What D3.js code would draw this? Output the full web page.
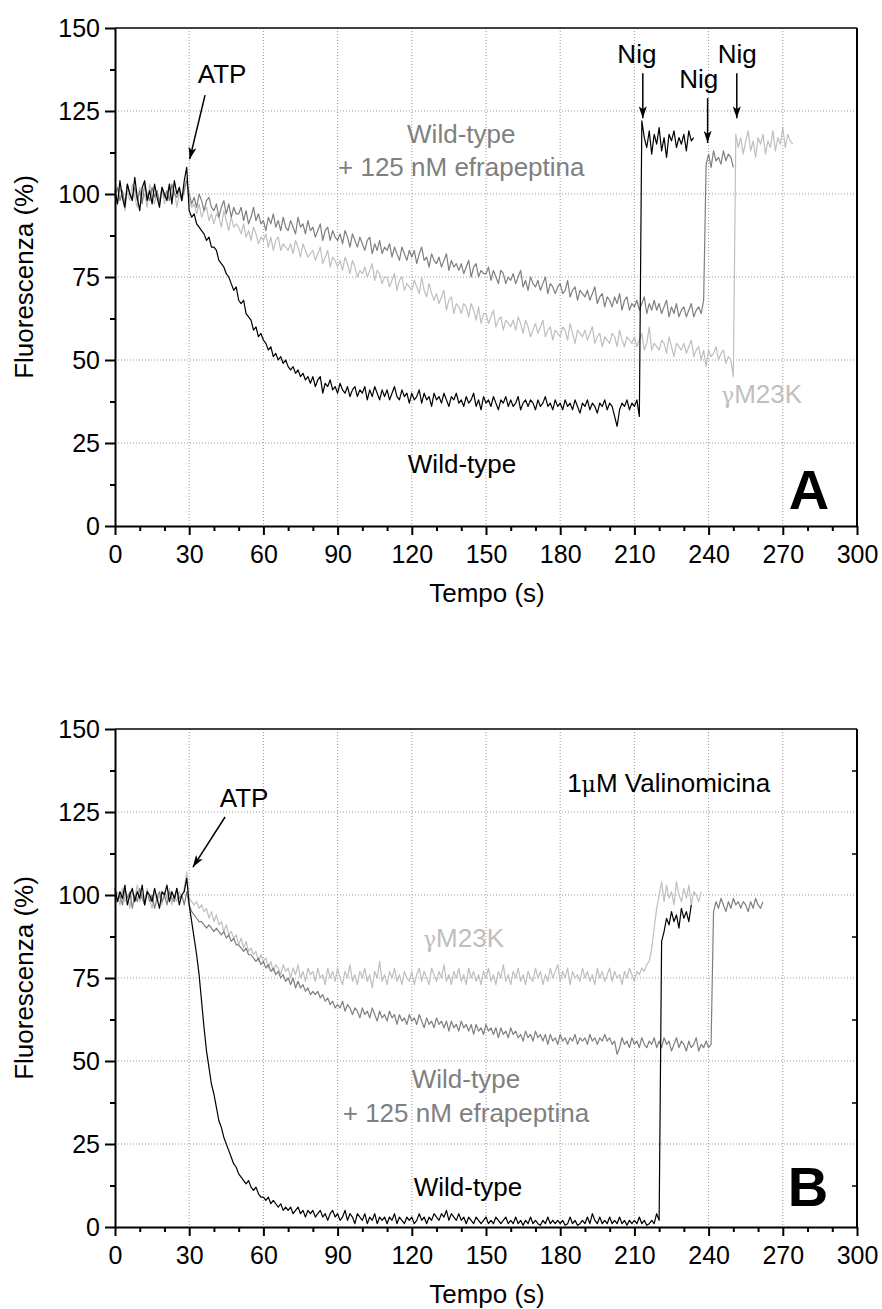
<!DOCTYPE html>
<html>
<head>
<meta charset="utf-8">
<script src="https://cdn.jsdelivr.net/npm/d3@7/dist/d3.min.js"></script>
<style>
  body { margin: 0; background: #fff; }
  svg { display: block; font-family: "Liberation Sans", Arial, sans-serif; }
</style>
</head>
<body>
<script>
// sampling step of every trace, seconds
const timeStep = 1;

const xTicks = [0, 30, 60, 90, 120, 150, 180, 210, 240, 270, 300];
const xMinor = d3.range(0, 301, 10).filter(v => v % 30 !== 0);
const yTicks = [0, 25, 50, 75, 100, 125, 150];
const yMinor = [12.5, 37.5, 62.5, 87.5, 112.5, 137.5];
const xGrid = [30, 60, 90, 120, 150, 180, 210, 240, 270];
const yGrid = [25, 50, 75, 100, 125];

// panel A, fluorescence (%) sampled every second from t = 0
const aWildType = [
  101, 97, 104, 99, 96, 103, 100, 98, 105, 99,
  95, 102, 104, 98, 101, 97, 103, 99, 96, 102,
  100, 98, 103, 97, 104, 100, 102, 98, 104, 108,
  95, 93, 94, 91, 90, 89, 88, 86, 87, 84,
  84, 83, 80, 79, 78, 76, 75, 73, 71, 72,
  68, 67, 68, 64, 63, 62, 59, 60, 57, 58,
  56, 55, 53, 54, 51, 52, 50, 51, 49, 50,
  48, 47, 48, 46, 47, 45, 46, 44, 45, 43,
  45, 42, 44, 45, 40, 43, 42, 44, 41, 42,
  40, 43, 41, 40, 42, 39, 41, 42, 39, 41,
  40, 42, 38, 41, 39, 42, 40, 38, 41, 39,
  41, 38, 40, 42, 39, 38, 41, 39, 40, 37,
  40, 38, 39, 41, 37, 40, 38, 39, 36, 40,
  38, 39, 37, 40, 38, 36, 39, 38, 40, 37,
  38, 36, 39, 37, 38, 40, 36, 38, 35, 39,
  37, 38, 36, 39, 37, 35, 38, 37, 39, 36,
  38, 36, 37, 39, 35, 37, 38, 36, 38, 37,
  35, 38, 36, 37, 39, 36, 37, 35, 38, 36,
  37, 35, 38, 36, 37, 35, 38, 36, 34, 37,
  36, 38, 35, 37, 36, 34, 37, 36, 38, 35,
  37, 36, 33, 30, 35, 37, 36, 38, 35, 37,
  36, 38, 33, 122, 117, 114, 119, 112, 118, 115,
  120, 113, 117, 111, 118, 116, 119, 114, 117, 115,
  118, 113, 119, 116, 117
];
const aWtEfra = [
  99, 102, 98, 101, 97, 103, 100, 99, 102, 98,
  101, 97, 103, 100, 98, 102, 99, 101, 97, 102,
  99, 101, 98, 103, 100, 99, 102, 98, 101, 104,
  100, 97, 99, 96, 100, 98, 95, 98, 99, 96,
  95, 97, 93, 96, 98, 94, 97, 93, 96, 94,
  94, 96, 92, 95, 91, 93, 96, 92, 94, 91,
  92, 89, 93, 91, 94, 90, 92, 89, 93, 90,
  89, 92, 90, 88, 93, 90, 91, 88, 92, 89,
  90, 87, 89, 91, 86, 89, 90, 86, 89, 87,
  86, 88, 85, 89, 87, 84, 88, 86, 84, 87,
  85, 83, 86, 87, 82, 85, 83, 86, 82, 84,
  83, 85, 81, 84, 82, 80, 84, 82, 80, 83,
  81, 83, 79, 82, 84, 80, 81, 78, 82, 80,
  79, 81, 78, 80, 82, 77, 80, 78, 79, 77,
  79, 76, 78, 80, 75, 78, 79, 75, 77, 76,
  76, 78, 74, 77, 75, 73, 77, 76, 73, 75,
  74, 76, 73, 75, 77, 72, 74, 71, 75, 73,
  72, 74, 71, 73, 75, 70, 73, 72, 70, 72,
  73, 70, 71, 74, 69, 71, 72, 68, 71, 70,
  69, 71, 68, 70, 72, 67, 69, 70, 66, 69,
  68, 66, 69, 67, 70, 65, 68, 69, 65, 67,
  66, 68, 65, 67, 69, 64, 67, 65, 68, 65,
  67, 64, 66, 68, 63, 66, 64, 67, 63, 65,
  66, 63, 65, 67, 63, 65, 66, 64, 68, 109,
  112, 108, 113, 110, 111, 109, 113, 110, 112, 111,
  108
];
const aM23K = [
  100, 97, 102, 99, 95, 101, 98, 103, 99, 96,
  102, 98, 100, 96, 103, 99, 97, 101, 98, 102,
  97, 100, 103, 98, 101, 96, 100, 99, 102, 105,
  98, 96, 97, 94, 97, 93, 95, 96, 92, 94,
  91, 94, 93, 90, 95, 92, 89, 93, 90, 91,
  90, 88, 91, 87, 89, 86, 90, 88, 85, 87,
  86, 88, 84, 87, 83, 86, 87, 83, 85, 84,
  83, 85, 82, 86, 84, 81, 85, 83, 81, 82,
  83, 80, 82, 84, 79, 81, 83, 78, 81, 80,
  78, 80, 77, 81, 79, 76, 80, 78, 75, 77,
  76, 78, 75, 77, 79, 74, 77, 76, 73, 75,
  75, 72, 74, 76, 71, 74, 75, 71, 73, 72,
  71, 74, 72, 70, 75, 71, 69, 73, 70, 68,
  70, 67, 69, 71, 65, 68, 69, 64, 67, 66,
  64, 67, 66, 63, 67, 65, 62, 66, 61, 64,
  64, 61, 63, 65, 60, 62, 63, 59, 62, 61,
  60, 62, 59, 63, 61, 58, 62, 60, 57, 59,
  61, 58, 60, 62, 57, 59, 60, 56, 59, 58,
  57, 60, 59, 56, 61, 58, 55, 59, 58, 57,
  59, 56, 58, 60, 55, 57, 58, 54, 57, 56,
  55, 58, 57, 54, 59, 56, 54, 57, 56, 55,
  57, 54, 56, 58, 53, 55, 60, 53, 55, 54,
  53, 56, 55, 52, 57, 54, 51, 55, 54, 53,
  55, 52, 54, 56, 51, 53, 54, 50, 53, 48,
  53, 51, 52, 54, 50, 52, 53, 49, 51, 50,
  45, 118, 114, 117, 112, 116, 119, 113, 116, 111,
  117, 115, 118, 112, 116, 114, 119, 113, 117, 115,
  120, 114, 118, 116, 115
];

// panel B (1 uM valinomycin), same sampling
const bWildType = [
  102, 98, 101, 99, 103, 97, 100, 102, 98, 101,
  99, 103, 97, 101, 100, 98, 102, 99, 96, 101,
  100, 103, 98, 101, 99, 102, 97, 100, 101, 105,
  97, 92, 87, 82, 76, 68, 60, 53, 48, 43,
  40, 36, 32, 30, 27, 25, 23, 21, 19, 18,
  16, 15, 14, 13, 14, 12, 11, 12, 10, 9,
  9, 8, 9, 7, 8, 7, 6, 7, 5, 6,
  5, 6, 4, 5, 6, 4, 5, 3, 5, 4,
  5, 3, 4, 5, 3, 4, 2, 4, 5, 3,
  4, 2, 3, 5, 2, 4, 3, 1, 4, 3,
  2, 4, 1, 3, 2, 4, 1, 3, 2, 3,
  1, 3, 2, 4, 1, 3, 2, 1, 3, 2,
  3, 1, 2, 4, 2, 3, 1, 3, 2, 4,
  3, 2, 4, 3, 5, 2, 4, 3, 2, 4,
  2, 3, 1, 3, 2, 1, 3, 2, 1, 2,
  3, 1, 2, 1, 3, 2, 1, 2, 3, 1,
  2, 1, 3, 1, 2, 0.5, 2, 1, 3, 1,
  2, 1, 0.5, 2, 1, 3, 1, 2, 1, 2,
  1, 2, 0.5, 1, 3, 1, 2, 0.5, 1, 2,
  1, 3, 1, 4, 2, 1, 3, 1, 2, 1,
  3, 1, 2, 1, 3, 1, 2, 0.5, 2, 1,
  2, 1, 3, 1, 2, 0.5, 1, 2, 1, 4,
  2, 86, 89, 93, 91, 95, 92, 94, 90, 96,
  93, 95, 92, 97
];
const bWtEfra = [
  101, 98, 100, 97, 102, 99, 101, 96, 100, 98,
  102, 99, 97, 101, 98, 100, 96, 99, 101, 98,
  100, 97, 101, 99, 98, 102, 99, 100, 97, 101,
  97, 95, 94, 93, 92, 92, 91, 90, 91, 90,
  89, 90, 89, 88, 89, 87, 88, 86, 87, 85,
  85, 84, 83, 84, 82, 82, 81, 80, 81, 79,
  80, 78, 79, 77, 78, 76, 77, 75, 76, 74,
  75, 73, 75, 72, 74, 72, 73, 71, 72, 70,
  71, 70, 71, 69, 70, 68, 69, 67, 68, 66,
  67, 66, 68, 65, 67, 66, 64, 66, 65, 63,
  66, 64, 65, 63, 66, 64, 62, 65, 63, 64,
  62, 65, 63, 64, 61, 64, 62, 63, 61, 64,
  62, 63, 61, 64, 62, 60, 63, 61, 62, 60,
  63, 61, 62, 60, 62, 59, 62, 60, 61, 59,
  62, 60, 61, 59, 61, 58, 61, 59, 60, 58,
  61, 59, 60, 58, 60, 57, 60, 58, 59, 57,
  60, 58, 59, 57, 58, 56, 59, 57, 58, 56,
  59, 57, 58, 56, 58, 55, 58, 56, 57, 55,
  58, 56, 57, 55, 57, 56, 58, 55, 57, 56,
  57, 55, 58, 56, 57, 55, 57, 56, 58, 56,
  57, 55, 56, 52, 54, 57, 55, 56, 54, 57,
  55, 56, 54, 57, 55, 54, 56, 55, 57, 54,
  56, 54, 57, 55, 56, 53, 55, 57, 54, 56,
  55, 53, 56, 54, 55, 57, 53, 55, 54, 56,
  54, 55, 95, 98, 96, 99, 97, 95, 98, 96,
  99, 97, 98, 96, 98, 97, 95, 98, 96, 99,
  97, 96, 98
];
const bM23K = [
  99, 101, 97, 102, 98, 100, 96, 101, 99, 103,
  98, 100, 97, 102, 99, 96, 101, 98, 100, 97,
  101, 99, 102, 97, 100, 98, 101, 99, 102, 107,
  99, 98, 97, 98, 96, 97, 95, 96, 93, 95,
  92, 94, 91, 92, 89, 91, 88, 89, 87, 88,
  85, 87, 84, 86, 83, 84, 82, 83, 80, 82,
  80, 81, 78, 80, 77, 79, 78, 76, 79, 77,
  78, 75, 78, 76, 79, 75, 77, 74, 78, 76,
  77, 74, 78, 75, 76, 73, 78, 75, 77, 74,
  78, 75, 73, 77, 75, 79, 74, 76, 73, 77,
  75, 78, 74, 76, 72, 77, 75, 80, 74, 76,
  73, 77, 75, 78, 74, 76, 73, 77, 75, 74,
  77, 73, 76, 78, 74, 77, 75, 73, 78, 76,
  74, 77, 75, 79, 74, 76, 73, 77, 75, 78,
  74, 76, 73, 78, 75, 77, 74, 76, 73, 77,
  75, 78, 74, 76, 73, 77, 75, 79, 74, 76,
  73, 77, 75, 78, 74, 76, 73, 77, 75, 74,
  78, 75, 77, 73, 76, 74, 78, 75, 77, 79,
  74, 77, 75, 78, 73, 77, 75, 76, 74, 78,
  75, 77, 74, 76, 73, 78, 75, 77, 74, 76,
  78, 74, 77, 75, 76, 73, 77, 75, 78, 76,
  74, 77, 76, 78, 77, 79, 80, 84, 90, 96,
  100, 104, 98, 103, 99, 101, 97, 104, 100, 98,
  102, 99, 103, 97, 101, 100, 98, 101
];

const black = "#000", dark = "#7f7f7f", light = "#bfbfbf";

const svg = d3.select("body").append("svg")
  .attr("width", 882)
  .attr("height", 1309);

const defs = svg.append("defs");
defs.append("marker")
  .attr("id", "head")
  .attr("viewBox", "0 0 12 8")
  .attr("refX", 12)
  .attr("refY", 4)
  .attr("markerUnits", "userSpaceOnUse")
  .attr("markerWidth", 13)
  .attr("markerHeight", 8)
  .attr("orient", "auto")
  .append("path")
  .attr("d", "M0,0 L12,4 L0,8 L3,4 Z")
  .attr("fill", "#000");

function drawPanel(top, series, notes, letter, rightTicks) {
  const x = d3.scaleLinear().domain([0, 300]).range([115, 857]);
  const y = d3.scaleLinear().domain([0, 150]).range([top + 498, top]);
  const g = svg.append("g");

  // dotted grid
  g.append("g").selectAll("line").data(xGrid).join("line")
    .attr("x1", d => x(d)).attr("x2", d => x(d))
    .attr("y1", y(150)).attr("y2", y(0))
    .attr("stroke", "#9a9a9a").attr("stroke-dasharray", "1,2");
  g.append("g").selectAll("line").data(yGrid).join("line")
    .attr("x1", x(0)).attr("x2", x(300))
    .attr("y1", d => y(d)).attr("y2", d => y(d))
    .attr("stroke", "#9a9a9a").attr("stroke-dasharray", "1,2");

  // traces
  const line = d3.line().x((d, i) => x(i * timeStep)).y(d => y(d));
  series.forEach(s => {
    g.append("path")
      .datum(s.values)
      .attr("d", line)
      .attr("fill", "none")
      .attr("stroke", s.color)
      .attr("stroke-width", 1.2)
      .attr("stroke-linejoin", "round");
  });

  // frame
  g.append("line").attr("x1", x(0)).attr("x2", x(300))
    .attr("y1", y(150)).attr("y2", y(150))
    .attr("stroke", "#000").attr("stroke-width", 1.5);
  g.append("line").attr("x1", x(300)).attr("x2", x(300))
    .attr("y1", y(150)).attr("y2", y(0))
    .attr("stroke", "#000").attr("stroke-width", 2);
  if (rightTicks) {
    g.append("g").attr("transform", `translate(${x(300)},0)`)
      .call(d3.axisRight(y).tickValues(yMinor).tickSize(-5).tickFormat(""))
      .call(a => a.select(".domain").remove())
      .call(a => a.selectAll("line").attr("stroke-width", 1.5));
  }

  // axes
  const xAxis = g.append("g").attr("transform", `translate(0,${y(0)})`);
  xAxis.append("g")
    .call(d3.axisBottom(x).tickValues(xMinor).tickSize(5).tickSizeOuter(0).tickFormat(""))
    .call(a => a.select(".domain").remove())
    .call(a => a.selectAll("line").attr("stroke-width", 2));
  xAxis.append("g")
    .call(d3.axisBottom(x).tickValues(xTicks).tickSize(9).tickSizeOuter(0).tickPadding(10))
    .call(a => a.select(".domain").attr("stroke-width", 2))
    .call(a => a.selectAll("line").attr("stroke-width", 2))
    .call(a => a.selectAll("text").attr("font-size", 25).attr("font-family", null).attr("fill", "#000"));

  const yAxis = g.append("g").attr("transform", `translate(${x(0)},0)`);
  yAxis.append("g")
    .call(d3.axisLeft(y).tickValues(yMinor).tickSize(5).tickSizeOuter(0).tickFormat(""))
    .call(a => a.select(".domain").remove())
    .call(a => a.selectAll("line").attr("stroke-width", 2));
  yAxis.append("g")
    .call(d3.axisLeft(y).tickValues(yTicks).tickSize(10).tickSizeOuter(0).tickPadding(5))
    .call(a => a.select(".domain").attr("stroke-width", 2))
    .call(a => a.selectAll("line").attr("stroke-width", 2))
    .call(a => a.selectAll("text").attr("font-size", 25).attr("font-family", null).attr("fill", "#000"));

  // axis titles
  g.append("text")
    .attr("transform", `translate(33,${(y(0) + y(150)) / 2}) rotate(-90)`)
    .attr("text-anchor", "middle")
    .attr("font-size", 26)
    .text("Fluorescenza (%)");
  g.append("text")
    .attr("x", (x(0) + x(300)) / 2 + 1)
    .attr("y", y(0) + 76)
    .attr("text-anchor", "middle")
    .attr("font-size", 26)
    .text("Tempo (s)");

  // annotations
  notes.forEach(n => {
    if (n.arrow) {
      g.append("line")
        .attr("x1", x(n.arrow[0])).attr("y1", y(n.arrow[1]))
        .attr("x2", x(n.arrow[2])).attr("y2", y(n.arrow[3]))
        .attr("stroke", "#000").attr("stroke-width", 1.5)
        .attr("marker-end", "url(#head)");
    }
    if (n.text) {
      const t = g.append("text")
        .attr("x", x(n.t)).attr("y", y(n.v))
        .attr("text-anchor", n.anchor || "middle")
        .attr("font-size", 26)
        .attr("fill", n.color || "#000");
      n.text.forEach(part => {
        t.append("tspan")
          .attr("font-size", part.small ? 22 : null)
          .attr("font-family", part.small ? "'DejaVu Serif', serif" : null)
          .text(part.s);
      });
    }
  });

  g.append("text")
    .attr("x", x(letter.t)).attr("y", y(letter.v))
    .attr("text-anchor", "middle")
    .attr("font-size", 56)
    .attr("font-weight", "bold")
    .text(letter.s);
}

drawPanel(28,
  [
    { values: aM23K, color: light },
    { values: aWtEfra, color: dark },
    { values: aWildType, color: black }
  ],
  [
    { t: 43.3, v: 133.4, text: [{ s: "ATP" }], arrow: [36.4, 129.8, 30.2, 110.5] },
    { t: 211, v: 139.5, text: [{ s: "Nig" }], arrow: [213.4, 136.4, 213.4, 122.8] },
    { t: 236, v: 131.9, text: [{ s: "Nig" }], arrow: [239.6, 128.9, 239.6, 115.4] },
    { t: 251.6, v: 139.5, text: [{ s: "Nig" }], arrow: [251.4, 136.4, 251.4, 122.8] },
    { t: 140, v: 115.4, text: [{ s: "Wild-type" }], color: "#808080" },
    { t: 140, v: 105.4, text: [{ s: "+ 125 nM efrapeptina" }], color: "#808080" },
    { t: 140.3, v: 16, text: [{ s: "Wild-type" }] },
    { t: 261.4, v: 37, text: [{ s: "γ", small: true }, { s: "M23K" }], color: light }
  ],
  { s: "A", t: 280.6, v: 5.1 }, false);

drawPanel(729,
  [
    { values: bM23K, color: light },
    { values: bWtEfra, color: dark },
    { values: bWildType, color: black }
  ],
  [
    { t: 52.2, v: 126.5, text: [{ s: "ATP" }], arrow: [44.5, 123.5, 31.5, 108.4] },
    { t: 182.8, v: 131, anchor: "start", text: [{ s: "1" }, { s: "μ", small: true }, { s: "M Valinomicina" }] },
    { t: 140.9, v: 84.3, text: [{ s: "γ", small: true }, { s: "M23K" }], color: light },
    { t: 141.9, v: 41.9, text: [{ s: "Wild-type" }], color: "#808080" },
    { t: 141.9, v: 31.6, text: [{ s: "+ 125 nM efrapeptina" }], color: "#808080" },
    { t: 142.7, v: 9.3, text: [{ s: "Wild-type" }] }
  ],
  { s: "B", t: 280.2, v: 6.3 }, true);
</script>
</body>
</html>
